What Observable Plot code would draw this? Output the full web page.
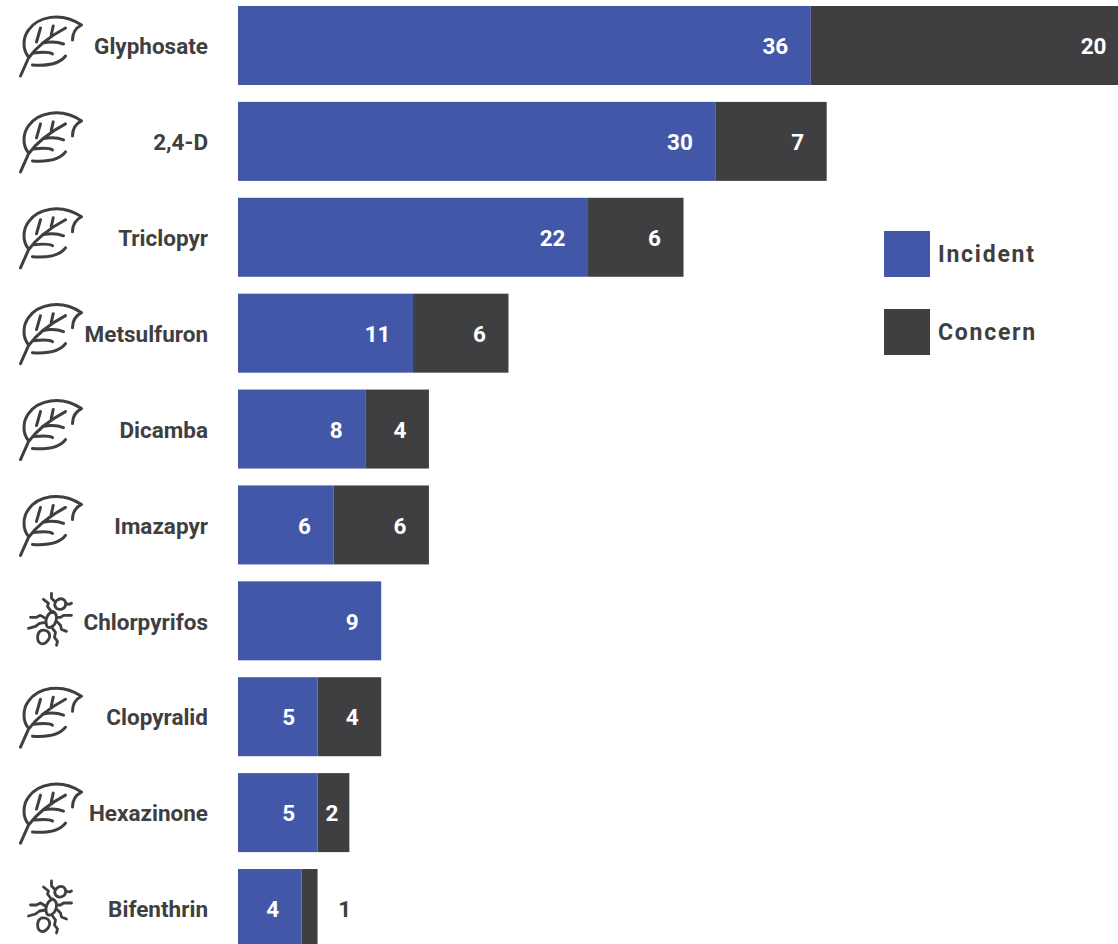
<!DOCTYPE html>
<html>
<head>
<meta charset="utf-8">
<script src="https://cdn.jsdelivr.net/npm/d3@7"></script>
<script src="https://cdn.jsdelivr.net/npm/@observablehq/plot@0.6"></script>
<style>
html,body{margin:0;padding:0;background:#fff;overflow:hidden}
#wrap{position:relative;width:1118px;height:944px;overflow:hidden}
#wrap svg{display:block}
.lg{position:absolute;left:884px;display:flex;align-items:center;font:700 23px Roboto,sans-serif;letter-spacing:1.75px;color:#3f3f41}
.lg i{display:block;width:46px;height:46px;margin-right:8px}
</style>
</head>
<body>
<div id="wrap"></div>
<script>
const names = ["Glyphosate","2,4-D","Triclopyr","Metsulfuron","Dicamba","Imazapyr","Chlorpyrifos","Clopyralid","Hexazinone","Bifenthrin"];
const incident = [36,30,22,11,8,6,9,5,5,4];
const concern = [20,7,6,6,4,6,0,4,2,1];
const kinds = ["leaf","leaf","leaf","leaf","leaf","leaf","bug","leaf","leaf","bug"];
const seriesNames = ["Incident","Concern"];
const seriesColors = ["#4257a7","#3f3f41"];
const ink = "#3f3f41";

const rows = names.flatMap((name,i)=>[
  {name,series:"Incident",value:incident[i],start:0,end:incident[i]},
  {name,series:"Concern",value:concern[i],start:incident[i],end:incident[i]+concern[i]}
]);
const icons = names.map((name,i)=>({name,kind:kinds[i]}));

const leaf = {draw(c){
  // stem and midrib
  c.moveTo(-30,30); c.lineTo(-22,12); c.bezierCurveTo(-14,1,0,-10,15,-18);
  // outline
  c.moveTo(-22,11); c.bezierCurveTo(-28,4,-28,-8,-22,-16); c.bezierCurveTo(-13,-29,10,-35,31,-21);
  c.moveTo(31,-21); c.bezierCurveTo(25,-18,22,-13,22,-6);
  c.moveTo(15,10); c.bezierCurveTo(9,18,-4,20,-18,19);
  // veins
  c.moveTo(-14,-4); c.lineTo(-10,-18);
  c.moveTo(0.7,-11); c.lineTo(2.7,-20);
  c.moveTo(-8,-3); c.bezierCurveTo(1,-5,8,-4,13,-2);
  c.moveTo(-17,7); c.bezierCurveTo(-8,6,-1,6,2,8);
}};
const bug = {draw(c){
  // head
  c.moveTo(8,-22); c.bezierCurveTo(13,-24,16,-20,15,-16); c.bezierCurveTo(14,-12,9,-11,6,-13); c.bezierCurveTo(3,-16,4,-20,8,-22);
  // thorax
  c.moveTo(2,-10); c.bezierCurveTo(7,-8,7,-2,4,3); c.bezierCurveTo(1,7,-3,7,-4,4); c.bezierCurveTo(-6,-1,-3,-8,2,-10);
  // abdomen
  c.moveTo(-9,9); c.bezierCurveTo(-4,8,0,11,-1,16); c.bezierCurveTo(-2,20,-7,24,-10,22); c.bezierCurveTo(-14,20,-14,11,-9,9);
  // antennae
  c.moveTo(4,-20); c.lineTo(1,-23); c.lineTo(1,-28);
  c.moveTo(15,-18); c.lineTo(19,-17); c.lineTo(21,-18);
  // legs
  c.moveTo(0,-11); c.lineTo(-3,-15); c.lineTo(-2,-18); c.lineTo(-7,-22);
  c.moveTo(-5,-3); c.lineTo(-10,-6); c.lineTo(-14,-4); c.lineTo(-20,-4);
  c.moveTo(-5,1); c.lineTo(-11,2); c.lineTo(-15,5); c.lineTo(-22,7);
  c.moveTo(6,-4); c.lineTo(10,-4); c.lineTo(13,-6); c.lineTo(21,-6);
  c.moveTo(6,0); c.lineTo(10,4); c.lineTo(11,8); c.lineTo(16,10);
  c.moveTo(2,7); c.lineTo(5,11); c.lineTo(4,16); c.lineTo(7,20); c.lineTo(6,24);
}};

const labelFont = {fontFamily:"Roboto, sans-serif",fontWeight:700,fontSize:22.5,dy:1};
const isBig = d => d.value > 2;

const chart = Plot.plot({
  width:1118, height:944,
  marginLeft:0, marginRight:0, marginTop:0, marginBottom:0,
  x:{domain:[0,56], range:[238,1129], axis:null},
  y:{domain:names, range:[6,948], paddingInner:16.9/95.9, paddingOuter:0, round:false, axis:null},
  color:{domain:seriesNames, range:seriesColors},
  style:{background:"#fff", overflow:"hidden"},
  marks:[
    Plot.barX(rows.filter(d=>d.value>0),{x1:"start",x2:"end",y:"name",fill:"series"}),
    Plot.text(rows.filter(isBig),{x:"end",y:"name",text:d=>String(d.value),dx:-23,textAnchor:"end",fill:"#fff",...labelFont,letterSpacing:"0.6px"}),
    Plot.text(rows.filter(d=>d.value===2),{x:d=>(d.start+d.end)/2,y:"name",text:d=>String(d.value),dx:-2,fill:"#fff",...labelFont}),
    Plot.text(rows.filter(d=>d.value===1),{x:"end",y:"name",text:d=>String(d.value),dx:33,textAnchor:"end",fill:ink,...labelFont}),
    Plot.text(names,{x:()=>0,y:d=>d,text:d=>d,dx:-30.5,textAnchor:"end",fill:ink,...labelFont}),
    Plot.dot(icons.filter(d=>d.kind==="leaf"),{x:()=>0,y:"name",dx:-188,symbol:leaf,r:10,stroke:ink,strokeWidth:3,fill:"none",strokeLinecap:"round",strokeLinejoin:"round"}),
    Plot.dot(icons.filter(d=>d.kind==="bug"),{x:()=>0,y:"name",dx:-188,symbol:bug,r:10,stroke:ink,strokeWidth:2.8,fill:"none",strokeLinecap:"round",strokeLinejoin:"round"})
  ]
});
const wrap = document.getElementById("wrap");
wrap.appendChild(chart);
seriesNames.forEach((s,i)=>{
  const el = document.createElement("div");
  el.className = "lg";
  el.style.top = [231,309][i]+"px";
  el.innerHTML = `<i style="background:${seriesColors[i]}"></i><span>${s}</span>`;
  wrap.appendChild(el);
});
</script>
</body>
</html>
